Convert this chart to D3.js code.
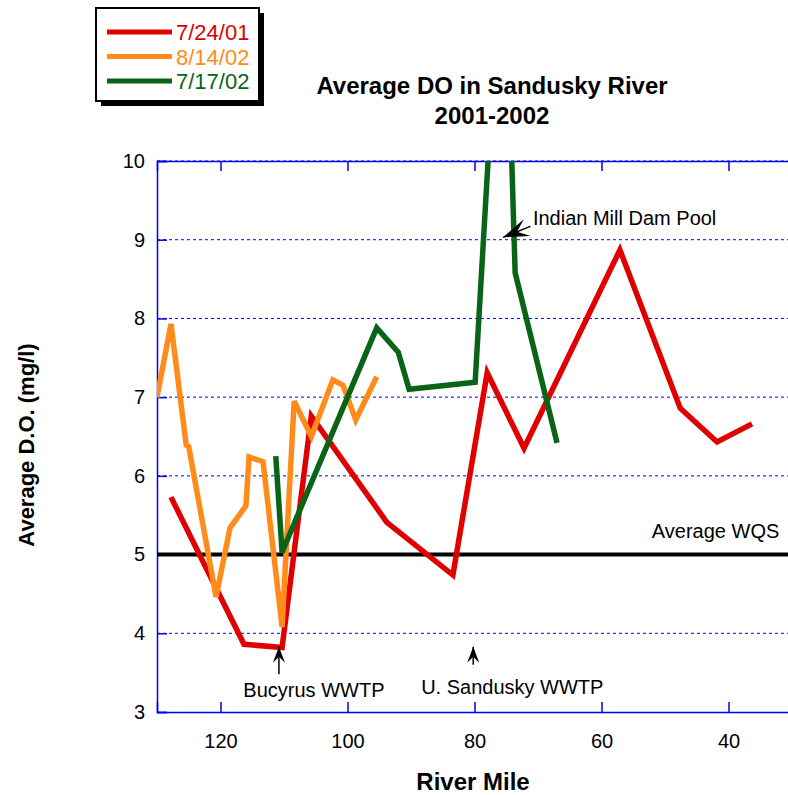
<!DOCTYPE html>
<html>
<head>
<meta charset="utf-8">
<script src="https://cdn.jsdelivr.net/npm/d3@7"></script>
<style>
  body { margin: 0; background: #fff; }
  svg { display: block; font-family: "Liberation Sans", Arial, sans-serif; }
</style>
</head>
<body>
<div id="chart"></div>
<script>
// series: river mile and average DO (mg/l)
var redMiles = [127.8, 116.3, 110.3, 105.7, 93.8, 83.4, 78.0, 72.2, 57.1, 47.6, 41.8, 36.3];
var redDO = [5.73, 3.86, 3.82, 6.76, 5.41, 4.74, 7.31, 6.35, 8.87, 6.86, 6.43, 6.66];

var orangeMiles = [130.0, 127.8, 125.4, 125.0, 120.7, 118.5, 116.0, 115.5, 113.3, 110.3, 108.4, 105.7, 102.3, 100.7, 98.7, 95.4];
var orangeDO = [7.00, 7.93, 6.39, 6.37, 4.46, 5.34, 5.62, 6.24, 6.18, 4.08, 6.95, 6.50, 7.22, 7.15, 6.71, 7.26];

var greenMiles = [111.3, 110.3, 95.4, 92.0, 90.3, 79.9, 75.4, 73.6, 67.0];
var greenDO = [6.25, 5.03, 7.88, 7.57, 7.10, 7.19, 13.4, 8.58, 6.42];

var seriesNames = ["7/24/01", "8/14/02", "7/17/02"];
var seriesColors = ["#e00000", "#ff8c1a", "#0a6418"];

var xTicks = [120, 100, 80, 60, 40];
var yTicks = [3, 4, 5, 6, 7, 8, 9, 10];
var wqs = 5;

var width = 788, height = 795;
var plotL = 157, plotR = 792, plotT = 161, plotB = 712;

var svg = d3.select("#chart").append("svg")
    .attr("width", width)
    .attr("height", height);

var x = d3.scaleLinear().domain([130, 30]).range([plotL, plotR]);
var y = d3.scaleLinear().domain([3, 10]).range([plotB, plotT]);

// dashed blue grid
svg.append("g").selectAll("line")
    .data(yTicks.slice(1))
    .enter().append("line")
    .attr("x1", plotL).attr("x2", plotR)
    .attr("y1", function(d) { return y(d); })
    .attr("y2", function(d) { return y(d); })
    .attr("stroke", "#0000ee")
    .attr("stroke-width", 1)
    .attr("stroke-dasharray", "3,3");

// axes: blue frame with inward ticks
var yAxis = d3.axisLeft(y).tickValues(yTicks).tickSize(-10).tickPadding(12).tickFormat(d3.format("d"));
var gy = svg.append("g").attr("transform", "translate(" + plotL + ",0)").call(yAxis);

var xAxis = d3.axisBottom(x).tickValues(xTicks).tickSize(-10).tickPadding(22);
var gx = svg.append("g").attr("transform", "translate(0," + plotB + ")").call(xAxis);

var xTop = d3.axisTop(x).tickValues(xTicks).tickSize(-10).tickFormat("");
var gt = svg.append("g").attr("transform", "translate(0," + plotT + ")").call(xTop);

[gy, gx, gt].forEach(function(g) {
  g.select(".domain").attr("stroke", "#0000ee").attr("stroke-width", 1.5);
  g.selectAll(".tick line").attr("stroke", "#0000ee").attr("stroke-width", 1.5);
  g.selectAll(".tick text").attr("fill", "#000").style("font-size", "20px")
    .style("font-family", "Liberation Sans, Arial, sans-serif");
});

// clip for the lines
svg.append("clipPath").attr("id", "plot")
  .append("rect").attr("x", plotL).attr("y", plotT).attr("width", plotR - plotL).attr("height", plotB - plotT);

// WQS line
svg.append("line")
    .attr("x1", plotL).attr("x2", plotR)
    .attr("y1", y(wqs)).attr("y2", y(wqs))
    .attr("stroke", "#000").attr("stroke-width", 4);

var line = d3.line()
    .x(function(d) { return x(d[0]); })
    .y(function(d) { return y(d[1]); });

var series = [
  d3.zip(redMiles, redDO),
  d3.zip(orangeMiles, orangeDO),
  d3.zip(greenMiles, greenDO)
];

svg.append("g").attr("clip-path", "url(#plot)")
  .selectAll("path")
  .data(series)
  .enter().append("path")
  .attr("d", line)
  .attr("fill", "none")
  .attr("stroke", function(d, i) { return seriesColors[i]; })
  .attr("stroke-width", 5.5)
  .attr("stroke-linejoin", "miter");

// annotations
function arrow(x1, y1, x2, y2, L, W, N) {
  var ang = Math.atan2(y2 - y1, x2 - x1);
  svg.append("line").attr("x1", x1).attr("y1", y1).attr("x2", x2).attr("y2", y2)
     .attr("stroke", "#000").attr("stroke-width", 1.5);
  var p = [
    [x2, y2],
    [x2 - L * Math.cos(ang) + W * Math.sin(ang), y2 - L * Math.sin(ang) - W * Math.cos(ang)],
    [x2 - N * Math.cos(ang), y2 - N * Math.sin(ang)],
    [x2 - L * Math.cos(ang) - W * Math.sin(ang), y2 - L * Math.sin(ang) + W * Math.cos(ang)]
  ];
  svg.append("path").attr("d", "M" + p.join("L") + "Z").attr("fill", "#000");
}

arrow(x(110.8), y(3.48), x(110.8), y(3.83), 16, 6, 10);
arrow(x(80.2), y(3.6), x(80.2), y(3.83), 16, 6, 10);
arrow(x(71.2), y(9.17), x(75.5), y(9.03), 26, 9, 15);

var notes = [
  { t: "Bucyrus WWTP", m: 116.4, v: 3.19, a: "start" },
  { t: "U. Sandusky WWTP", m: 88.4, v: 3.23, a: "start" },
  { t: "Indian Mill Dam Pool", m: 70.8, v: 9.19, a: "start" },
  { t: "Average WQS", m: 32.0, v: 5.21, a: "end" }
];
svg.append("g").selectAll("text")
  .data(notes)
  .enter().append("text")
  .attr("x", function(d) { return x(d.m); })
  .attr("y", function(d) { return y(d.v); })
  .attr("text-anchor", function(d) { return d.a; })
  .style("font-size", "20px")
  .text(function(d) { return d.t; });

// titles
svg.append("text").attr("x", 492).attr("y", 94).attr("text-anchor", "middle")
  .style("font-size", "24px").style("font-weight", "bold").text("Average DO in Sandusky River");
svg.append("text").attr("x", 492).attr("y", 124).attr("text-anchor", "middle")
  .style("font-size", "24px").style("font-weight", "bold").text("2001-2002");
svg.append("text").attr("x", 473).attr("y", 790).attr("text-anchor", "middle")
  .style("font-size", "24px").style("font-weight", "bold").text("River Mile");
svg.append("text").attr("transform", "translate(34,445) rotate(-90)").attr("text-anchor", "middle")
  .style("font-size", "22px").style("font-weight", "bold").text("Average D.O. (mg/l)");

// legend box with shadow
var lg = svg.append("g");
lg.append("rect").attr("x", 101).attr("y", 13).attr("width", 163).attr("height", 93).attr("fill", "#000");
lg.append("rect").attr("x", 96).attr("y", 8).attr("width", 163).attr("height", 93)
  .attr("fill", "#fff").attr("stroke", "#000").attr("stroke-width", 2);
var ly = d3.scalePoint().domain(seriesNames).range([32, 81]);
lg.selectAll(".item")
  .data(seriesNames)
  .enter().append("line")
  .attr("x1", 107).attr("x2", 172)
  .attr("y1", function(d) { return ly(d); })
  .attr("y2", function(d) { return ly(d); })
  .attr("stroke", function(d, i) { return seriesColors[i]; })
  .attr("stroke-width", 5);
lg.selectAll("text")
  .data(seriesNames)
  .enter().append("text")
  .attr("x", 176)
  .attr("y", function(d) { return ly(d) + 8; })
  .attr("fill", function(d, i) { return seriesColors[i]; })
  .style("font-size", "22px")
  .text(function(d) { return d; });
</script>
</body>
</html>
